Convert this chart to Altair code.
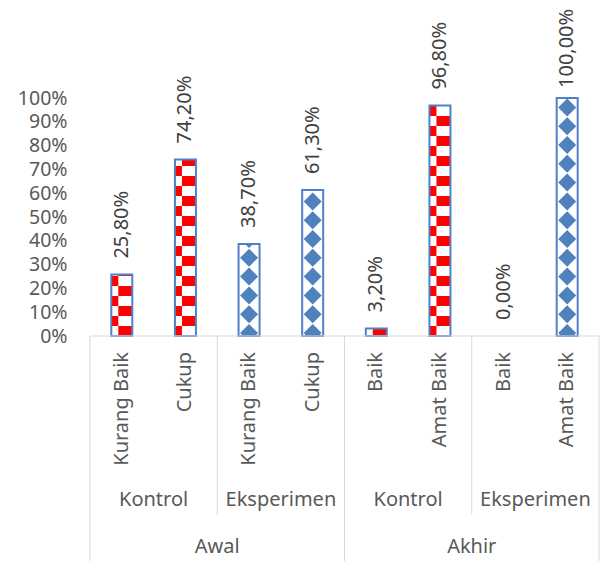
import math
import altair as alt
import pandas as pd

# Persentase kategori per kelas, tes awal dan akhir
periode = ["Awal", "Awal", "Awal", "Awal", "Akhir", "Akhir", "Akhir", "Akhir"]
kelas = ["Kontrol", "Kontrol", "Eksperimen", "Eksperimen",
         "Kontrol", "Kontrol", "Eksperimen", "Eksperimen"]
kategori = ["Kurang Baik", "Cukup", "Kurang Baik", "Cukup",
            "Baik", "Amat Baik", "Baik", "Amat Baik"]
persen = [25.8, 74.2, 38.7, 61.3, 3.2, 96.8, 0.0, 100.0]
y_ticks = [0, 10, 20, 30, 40, 50, 60, 70, 80, 90, 100]

W, H = 509, 238
FONT = "Noto Sans"
AXIS_GREY = "#D9D9D9"
TEXT_GREY = "#595959"
RED = "#FF0000"
BLUE = "#4F81BD"
HALF = 0.165          # half bar width, in category slots
PX = 1.0 / H          # one pixel in y units
DIAMOND = "M-1,0L0,-1L1,0L0,1Z"
R_DIAMOND = 9.0       # half diagonal of a pattern diamond, px

# bar table
rows = []
for i, (p, k, c, v) in enumerate(zip(periode, kelas, kategori, persen)):
    val = v / 100
    rows.append(dict(
        i=i, periode=p, kelas=k, kategori=c, v=val, base=0.0,
        cx=i + 0.5, left=i + 0.5 - HALF, right=i + 0.5 + HALF,
        label=f"{v:.2f}".replace(".", ",") + "%",
        lab_y=min(val + 16 * PX, 1.0 + 10 * PX),
        mask_top=val + 15 * PX,
    ))
bars = pd.DataFrame(rows)
drawn = bars[bars.v > 0]

# checkerboard cells of the Kontrol bars
cell = 10 * PX
split = 0.11
checker = []
for r in rows:
    if r["kelas"] != "Kontrol" or r["v"] <= 0:
        continue
    n = math.ceil(r["v"] / cell - 1e-9)
    cols = [(r["left"], r["left"] + split), (r["left"] + split, r["right"])]
    for j in range(n):
        for c, (a, b) in enumerate(cols):
            if (j + c + r["i"]) % 2 == 1:
                checker.append(dict(x0=a, x1=b, y0=j * cell,
                                    y1=min((j + 1) * cell, r["v"])))
checker = pd.DataFrame(checker)

# column of solid diamonds inside the Eksperimen bars
d0, dp, dr = 3 * PX, 18.8 * PX, R_DIAMOND * PX
mid = []
for r in rows:
    if r["kelas"] != "Eksperimen" or r["v"] <= 0:
        continue
    for k in range(0, 15):
        yc = d0 + k * dp
        if yc - dr <= r["v"] - 2 * PX:
            mid.append(dict(x=r["cx"], y=yc))
mid = pd.DataFrame(mid)

xs = alt.Scale(domain=[0, 8], zero=False, nice=False)
ys = alt.Scale(domain=[0, 1], zero=False, nice=False)
yaxis = alt.Axis(values=[t / 100 for t in y_ticks], format=".0%", grid=False,
                 domain=False, ticks=False, tickSize=0, labelPadding=23,
                 labelFont=FONT, labelFontSize=19.5, labelColor=TEXT_GREY, title=None)


def X(f):
    return alt.X(f, type="quantitative", scale=xs, axis=None)


def Y(f):
    return alt.Y(f, type="quantitative", scale=ys, axis=yaxis)


checker_layer = alt.Chart(checker).mark_rect(color=RED, strokeWidth=0).encode(
    x=X("x0"), x2="x1", y=Y("y0"), y2="y1")

diamonds = alt.Chart(mid).mark_point(
    shape=DIAMOND, filled=True, size=(2 * R_DIAMOND) ** 2, color=BLUE, opacity=1,
    strokeWidth=0, clip=True).encode(x=X("x"), y=Y("y"))

# white cover above each patterned bar
mask = alt.Chart(drawn).mark_rect(color="white", strokeWidth=0).encode(
    x=X("left"), x2="right", y=Y("v"), y2="mask_top")

outline = alt.Chart(drawn).mark_rect(
    fillOpacity=0, stroke="#5080C8", strokeWidth=2).encode(
    x=X("left"), x2="right", y=Y("base"), y2="v")

values = alt.Chart(bars).mark_text(
    angle=270, align="left", baseline="middle", font=FONT, fontSize=20,
    color="#404040").encode(x=X("cx"), y=Y("lab_y"), text="label:N")

# hierarchical category axis
baseline = alt.Chart(pd.DataFrame({"a": [0], "b": [8], "y": [0]})).mark_rule(
    color=AXIS_GREY, strokeWidth=1).encode(x=X("a"), x2="b", y=Y("y"))

long_sep = alt.Chart(pd.DataFrame({"x": [0, 4, 8]})).mark_rule(
    color=AXIS_GREY, strokeWidth=1).encode(
    x=X("x"), y=alt.value(H), y2=alt.value(H + 230))
short_sep = alt.Chart(pd.DataFrame({"x": [2, 6]})).mark_rule(
    color=AXIS_GREY, strokeWidth=1).encode(
    x=X("x"), y=alt.value(H), y2=alt.value(H + 179))

cat_labels = alt.Chart(bars).mark_text(
    angle=270, align="right", baseline="middle", font=FONT, fontSize=20,
    color=TEXT_GREY).encode(x=X("cx"), y=alt.value(H + 16), text="kategori:N")

kelas_df = pd.DataFrame({"x": [1, 3, 5, 7], "t": [kelas[0], kelas[2], kelas[4], kelas[6]]})
kelas_labels = alt.Chart(kelas_df).mark_text(
    align="center", baseline="middle", font=FONT, fontSize=20,
    color=TEXT_GREY).encode(x=X("x"), y=alt.value(H + 164), text="t:N")

periode_df = pd.DataFrame({"x": [2, 6], "t": [periode[0], periode[4]]})
periode_labels = alt.Chart(periode_df).mark_text(
    align="center", baseline="middle", font=FONT, fontSize=20,
    color=TEXT_GREY).encode(x=X("x"), y=alt.value(H + 211), text="t:N")

chart = alt.layer(
    checker_layer, diamonds, mask, outline, values,
    baseline, long_sep, short_sep, cat_labels, kelas_labels, periode_labels,
).properties(
    width=W, height=H,
    autosize=alt.AutoSizeParams(type="none"),
    padding={"left": 90, "top": 98, "right": 14, "bottom": 225},
    background="white",
).configure_view(stroke=None)

chart.save("out.html", embed_options={"renderer": "svg", "actions": False})
